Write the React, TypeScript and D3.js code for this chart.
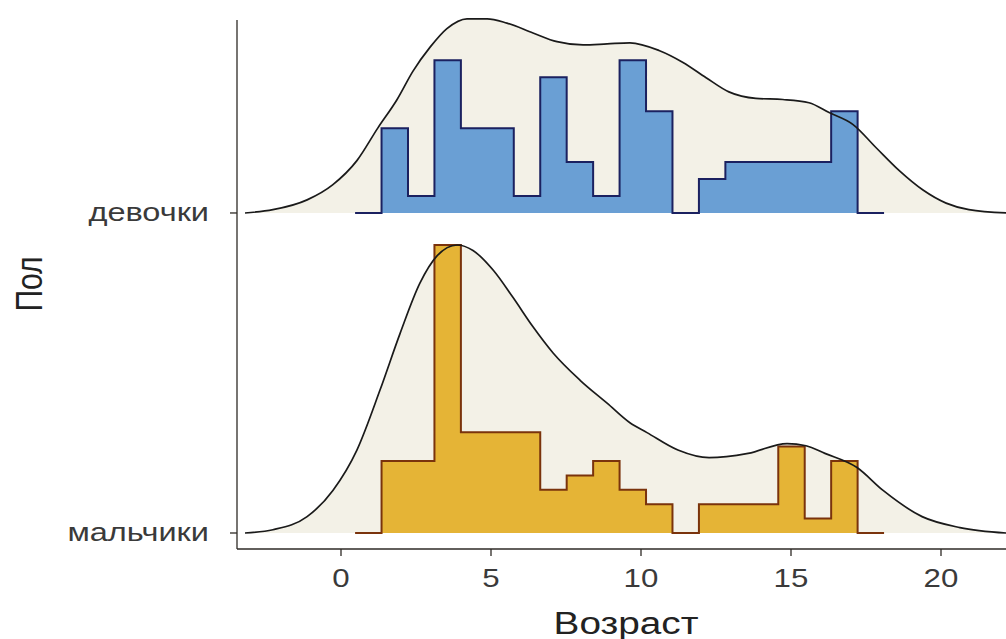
import React from 'react';
import * as d3 from 'd3';

// Ridge levels (bottom to top)
const groups = ['мальчики', 'девочки'];

// Shared histogram bins (age, years)
const binStart = 0.47;
const binWidth = 0.8816;
const girlsCounts = [0, 5, 1, 9, 5, 5, 1, 8, 3, 1, 9, 6, 0, 2, 3, 3, 3, 3, 6, 0];
const boysCounts = [0, 5, 5, 20, 7, 7, 7, 3, 4, 5, 3, 2, 0, 2, 2, 2, 6, 1, 5, 0];

// Kernel density estimates (age, density)
const girlsDensityAge = [-3.2, -2.27, -1.13, -0.27, 0.53, 1.23, 1.87, 2.4, 2.97, 3.53, 4.2, 4.87, 5.53, 6.4, 7.2, 8.07, 8.87, 9.63, 10.6, 11.4, 12.17, 12.93, 13.83, 14.73, 15.6, 16.27, 17.07, 17.83, 18.6, 19.4, 20.17, 20.93, 22.17];
const girlsDensity = [0, 0.003, 0.012, 0.026, 0.048, 0.078, 0.104, 0.13, 0.152, 0.169, 0.178, 0.178, 0.174, 0.165, 0.157, 0.154, 0.155, 0.156, 0.149, 0.138, 0.124, 0.111, 0.105, 0.104, 0.101, 0.092, 0.081, 0.06, 0.039, 0.021, 0.009, 0.003, 0];
const boysDensityAge = [-3.2, -2.27, -1.13, -0.27, 0.53, 1.3, 1.97, 2.63, 3.2, 3.87, 4.4, 5.07, 5.73, 6.4, 7.07, 7.97, 8.87, 9.63, 10.2, 11.23, 12.27, 13.57, 14.87, 15.5, 16.13, 17.2, 18.07, 19.37, 20.63, 22.17];
const boysDensity = [0, 0.003, 0.015, 0.039, 0.076, 0.131, 0.183, 0.229, 0.254, 0.264, 0.259, 0.241, 0.216, 0.189, 0.165, 0.14, 0.119, 0.101, 0.092, 0.076, 0.069, 0.073, 0.082, 0.08, 0.073, 0.06, 0.039, 0.015, 0.005, 0];

const xTicks = [0, 5, 10, 15, 20];
const xTitle = 'Возраст';
const yTitle = 'Пол';

const W = 1006;
const H = 639;
const FONT = '"Liberation Sans", Arial, sans-serif';
const STRETCH = 1.25;

type Series = {
  name: string;
  level: number;
  counts: number[];
  ages: number[];
  dens: number[];
  fill: string;
  stroke: string;
};

const series: Series[] = [
  { name: groups[0], level: 1, counts: boysCounts, ages: boysDensityAge, dens: boysDensity, fill: '#E5B436', stroke: '#7A330C' },
  { name: groups[1], level: 2, counts: girlsCounts, ages: girlsDensityAge, dens: girlsDensity, fill: '#6A9FD4', stroke: '#1B2160' },
];

export default function App() {
  const x = d3.scaleLinear().domain([-3.4667, 22.1667]).range([237, 1006]);
  const y = d3.scaleLinear().domain([0.95, 2.603]).range([549, 20]);

  const histDens = series.map((s) => {
    const n = d3.sum(s.counts);
    return s.counts.map((c) => c / (n * binWidth));
  });
  const maxHist = d3.max(histDens.flat()) as number;
  const maxCurve = d3.max(series.flatMap((s) => s.dens)) as number;
  const hScale = d3.scaleLinear().domain([0, maxHist]).range([0, 0.9]);
  const cScale = d3.scaleLinear().domain([0, maxCurve]).range([0, 0.9]);

  const ridges = series.map((s, si) => {
    const pts = s.ages.map((a, i) => ({ a, d: s.dens[i] }));
    const area = d3
      .area<{ a: number; d: number }>()
      .x((p) => x(p.a))
      .y0(y(s.level))
      .y1((p) => y(s.level + cScale(p.d)))
      .curve(d3.curveMonotoneX)(pts) as string;
    const line = d3
      .line<{ a: number; d: number }>()
      .x((p) => x(p.a))
      .y((p) => y(s.level + cScale(p.d)))
      .curve(d3.curveMonotoneX)(pts) as string;

    const hd = histDens[si];
    const steps = hd.map((v, i) => ({ e: binStart + i * binWidth, v }));
    steps.push({ e: binStart + hd.length * binWidth, v: hd[hd.length - 1] });
    const histArea = d3
      .area<{ e: number; v: number }>()
      .x((p) => x(p.e))
      .y0(y(s.level))
      .y1((p) => y(s.level + hScale(p.v)))
      .curve(d3.curveStepAfter)(steps) as string;
    const histLine = d3
      .line<{ e: number; v: number }>()
      .x((p) => x(p.e))
      .y((p) => y(s.level + hScale(p.v)))
      .curve(d3.curveStepAfter)(steps) as string;

    return (
      <g key={s.name}>
        <path d={area} fill="#F3F1E7" stroke="none" />
        <path d={histArea} fill={s.fill} stroke="none" />
        <path d={histLine} fill="none" stroke={s.stroke} strokeWidth={2} />
        <path d={line} fill="none" stroke="#1a1a1a" strokeWidth={1.7} />
      </g>
    );
  });

  const axisColor = '#2e2a26';
  const textColor = '#3a3a3a';

  return (
    <svg
      width={W}
      height={H}
      style={{ position: 'absolute', left: 0, top: 0, background: '#ffffff' }}
      fontFamily={FONT}
    >
      <rect x={0} y={0} width={W} height={H} fill="#ffffff" />
      {ridges}

      {/* y axis */}
      <line x1={237} x2={237} y1={20} y2={549} stroke={axisColor} strokeWidth={1.3} />
      {series.map((s) => (
        <g key={'yt' + s.name}>
          <line x1={230} x2={237} y1={y(s.level)} y2={y(s.level)} stroke={axisColor} strokeWidth={1.3} />
          <text
            transform={`translate(209,${y(s.level) + 8}) scale(${STRETCH},1)`}
            textAnchor="end"
            fontSize={26}
            fill={textColor}
          >
            {s.name}
          </text>
        </g>
      ))}

      {/* x axis */}
      <line x1={237} x2={W} y1={549} y2={549} stroke={axisColor} strokeWidth={1.3} />
      {xTicks.map((t) => (
        <g key={'xt' + t}>
          <line x1={x(t)} x2={x(t)} y1={549} y2={556} stroke={axisColor} strokeWidth={1.3} />
          <text
            transform={`translate(${x(t)},587) scale(${STRETCH},1)`}
            textAnchor="middle"
            fontSize={25}
            fill={textColor}
          >
            {t}
          </text>
        </g>
      ))}

      {/* titles */}
      <text
        transform={`translate(626,634) scale(${STRETCH},1)`}
        textAnchor="middle"
        fontSize={31}
        fill="#222"
      >
        {xTitle}
      </text>
      <text
        transform={`translate(42,284) scale(${STRETCH},1) rotate(-90)`}
        textAnchor="middle"
        fontSize={30}
        fill="#222"
      >
        {yTitle}
      </text>
    </svg>
  );
}
